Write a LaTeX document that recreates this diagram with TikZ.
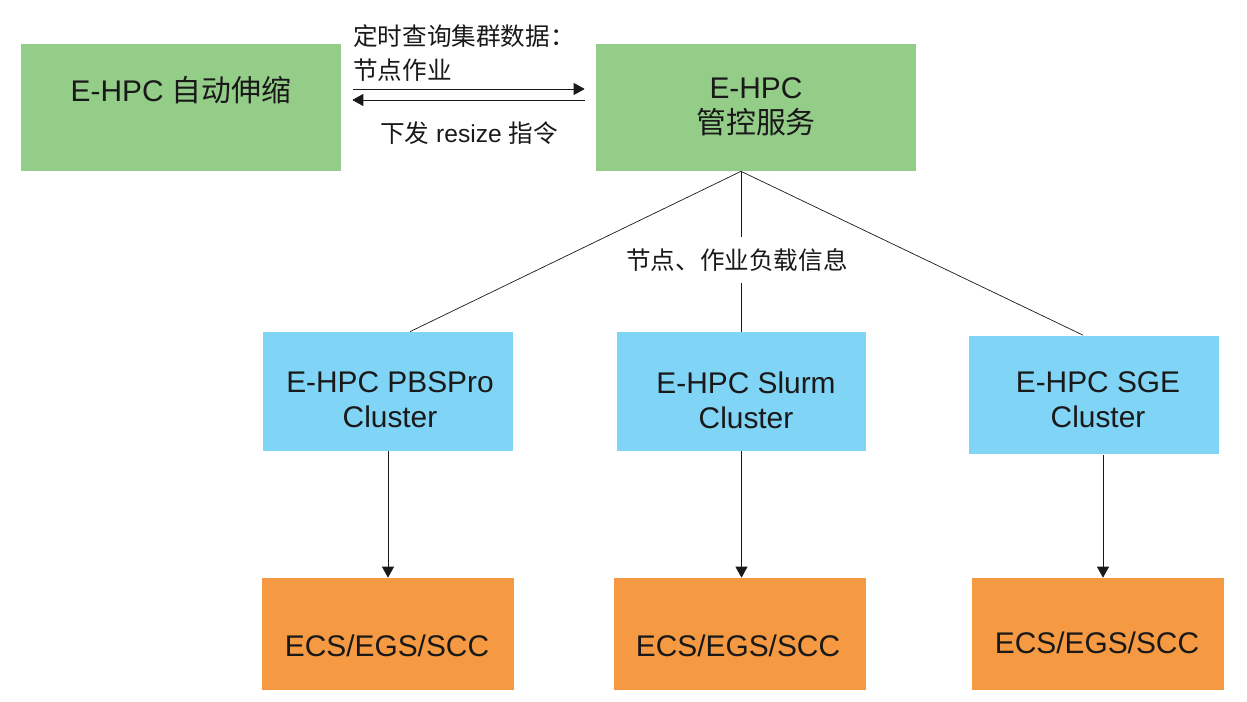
\documentclass[tikz,border=0pt]{standalone}
\usepackage{fontspec}
\setmainfont{Liberation Sans}
\newfontfamily\cjk{Noto Sans CJK SC}
\usetikzlibrary{arrows.meta,positioning,calc}
\definecolor{pgreen}{HTML}{93CD88}
\definecolor{pblue}{HTML}{80D4F6}
\definecolor{porange}{HTML}{F59A42}
\tikzset{
  gbox/.style={fill=pgreen,minimum width=6.4cm,minimum height=2.54cm,inner sep=0pt},
  bbox/.style={fill=pblue,minimum width=5cm,minimum height=2.38cm,inner sep=0pt},
  obox/.style={fill=porange,minimum width=5.04cm,minimum height=2.24cm,inner sep=0pt},
  txt/.style={font=\fontsize{17}{20}\selectfont,align=center,inner sep=0pt,text=black!90},
  lbl/.style={font=\fontsize{14}{19}\selectfont,inner sep=0pt,text=black!90},
  arr/.style={-{Triangle[length=2.2mm,width=2.4mm]},black!90},
  ln/.style={black!90},
}

\begin{document}
\begin{tikzpicture}[x=0.02cm,y=-0.02cm]
\useasboundingbox (0,0) rectangle (1247,702);
% top row
\node[gbox] (auto) at (181,107.5) {};
\node[txt] (autot) at (181,90) {E-HPC {\cjk 自动伸缩}};
\node[gbox] (mgmt) at (756,107.5) {};
\node[txt] (mgmtt) at (756,107) {E-HPC\\{\cjk 管控服务}};
% query / resize
\node[lbl,align=left,anchor=west] (query) at (353,53) {{\cjk 定时查询集群数据：}\\{\cjk 节点作业}};
\node[lbl] (resize) at (469,133) {{\cjk 下发} resize {\cjk 指令}};
\draw[arr] ($(auto.east)+(12,-18.5)$) -- ($(mgmt.west)+(-11,-18.5)$);
\draw[arr] ($(mgmt.west)+(-11,-7.5)$) -- ($(auto.east)+(11,-7.5)$);
% clusters
\node[bbox] (pbs) at (388,391.5) {};
\node[txt] (pbst) at (390,400) {E-HPC PBSPro\\Cluster};
\node[bbox] (slurm) at (741.5,391.5) {};
\node[txt] (slurmt) at (746,400) {E-HPC Slurm\\Cluster};
\node[bbox] (sge) at (1094,395) {};
\node[txt] (sget) at (1098,400) {E-HPC SGE\\Cluster};
% resources
\node[obox] (ecsa) at (388,634) {};
\node[txt] (ecsat) at (387,646) {ECS/EGS/SCC};
\node[obox] (ecsb) at (740,634) {};
\node[txt] (ecsbt) at (738,646) {ECS/EGS/SCC};
\node[obox] (ecsc) at (1098,634) {};
\node[txt] (ecsct) at (1097,643) {ECS/EGS/SCC};
% fan-out
\coordinate (hub) at ($(mgmt.south)+(-15,0)$);
\draw[ln] (hub) -- ($(pbs.north)+(22,0)$);
\draw[ln] (hub) -- ($(sge.north)+(-11,0)$);
\draw[ln] (hub) -- (hub|-slurm.north);
\node[lbl,fill=white,inner xsep=2pt,inner ysep=0.24cm] (load) at (737,260) {{\cjk 节点、作业负载信息}};
% down arrows
\coordinate (sgeout) at ($(sge.south)+(9,0)$);
\draw[arr] (pbs.south) -- (pbs.south|-ecsa.north);
\draw[arr] (slurm.south) -- (slurm.south|-ecsb.north);
\draw[arr] (sgeout) -- (sgeout|-ecsc.north);
\end{tikzpicture}
\end{document}
